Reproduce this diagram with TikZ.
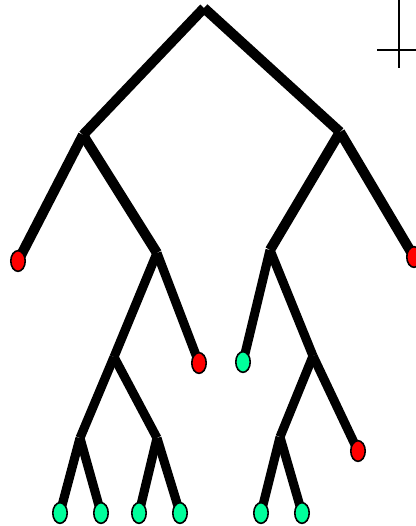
\documentclass[tikz,border=0pt]{standalone}
\usetikzlibrary{shapes.geometric}
\definecolor{leafred}{RGB}{255,0,0}
\definecolor{leafgreen}{RGB}{0,255,155}
\begin{document}
\begin{tikzpicture}[x=0.75pt,y=-0.75pt,
  branch/.style={line width=7.6pt,line cap=butt,draw=black},
  branchthin/.style={line width=6.8pt,line cap=butt,draw=black},
  leaf/.style={ellipse,draw=black,line width=1.2pt,inner sep=0pt,minimum width=10.8pt,minimum height=15.5pt},
  redleaf/.style={leaf,fill=leafred},
  greenleaf/.style={leaf,fill=leafgreen},
  crossline/.style={line width=1.6pt,draw=black}]
\useasboundingbox (0,0) rectangle (416,526);
% junctions
\coordinate (root) at (204,8);
\coordinate (l1) at (83,135);
\coordinate (r1) at (340,132);
\coordinate (l2) at (157,253);
\coordinate (r2) at (270,250);
\coordinate (l3) at (114,357);
\coordinate (r3) at (313,356);
\coordinate (l4a) at (80,438);
\coordinate (l4b) at (157,438);
\coordinate (r4) at (280,437);
% leaves (positions)
\coordinate (p1) at (18,261);
\coordinate (p2) at (414,257);
\coordinate (p3) at (199,363);
\coordinate (p4) at (243,362);
\coordinate (p5) at (358,451);
\coordinate (p6) at (60,513);
\coordinate (p7) at (101,513);
\coordinate (p8) at (139,513);
\coordinate (p9) at (180,513);
\coordinate (p10) at (261,513);
\coordinate (p11) at (302,513);
% branches
\draw[branch] (root) -- (l1);
\draw[branch] (root) -- (r1);
\draw[branch] (l1) -- (p1);
\draw[branch] (l1) -- (l2);
\draw[branch] (r1) -- (r2);
\draw[branch] (r1) -- (p2);
\draw[branchthin] (l2) -- (l3);
\draw[branchthin] (l2) -- (p3);
\draw[branchthin] (r2) -- (p4);
\draw[branchthin] (r2) -- (r3);
\draw[branchthin] (l3) -- (l4a);
\draw[branchthin] (l3) -- (l4b);
\draw[branchthin] (r3) -- (r4);
\draw[branchthin] (r3) -- (p5);
\draw[branchthin] (l4a) -- (p6);
\draw[branchthin] (l4a) -- (p7);
\draw[branchthin] (l4b) -- (p8);
\draw[branchthin] (l4b) -- (p9);
\draw[branchthin] (r4) -- (p10);
\draw[branchthin] (r4) -- (p11);
% leaf nodes
\node[redleaf] (n1) at (p1) {};
\node[redleaf] (n2) at (p2) {};
\node[redleaf] (n3) at (p3) {};
\node[greenleaf] (n4) at (p4) {};
\node[redleaf] (n5) at (p5) {};
\node[greenleaf] (n6) at (p6) {};
\node[greenleaf] (n7) at (p7) {};
\node[greenleaf] (n8) at (p8) {};
\node[greenleaf] (n9) at (p9) {};
\node[greenleaf] (n10) at (p10) {};
\node[greenleaf] (n11) at (p11) {};
% cross mark
\coordinate (cv1) at (399,0);
\coordinate (cv2) at (399,68);
\coordinate (ch1) at (377,50);
\coordinate (ch2) at (416,50);
\draw[crossline] (cv1) -- (cv2);
\draw[crossline] (ch1) -- (ch2);
\end{tikzpicture}
\end{document}
